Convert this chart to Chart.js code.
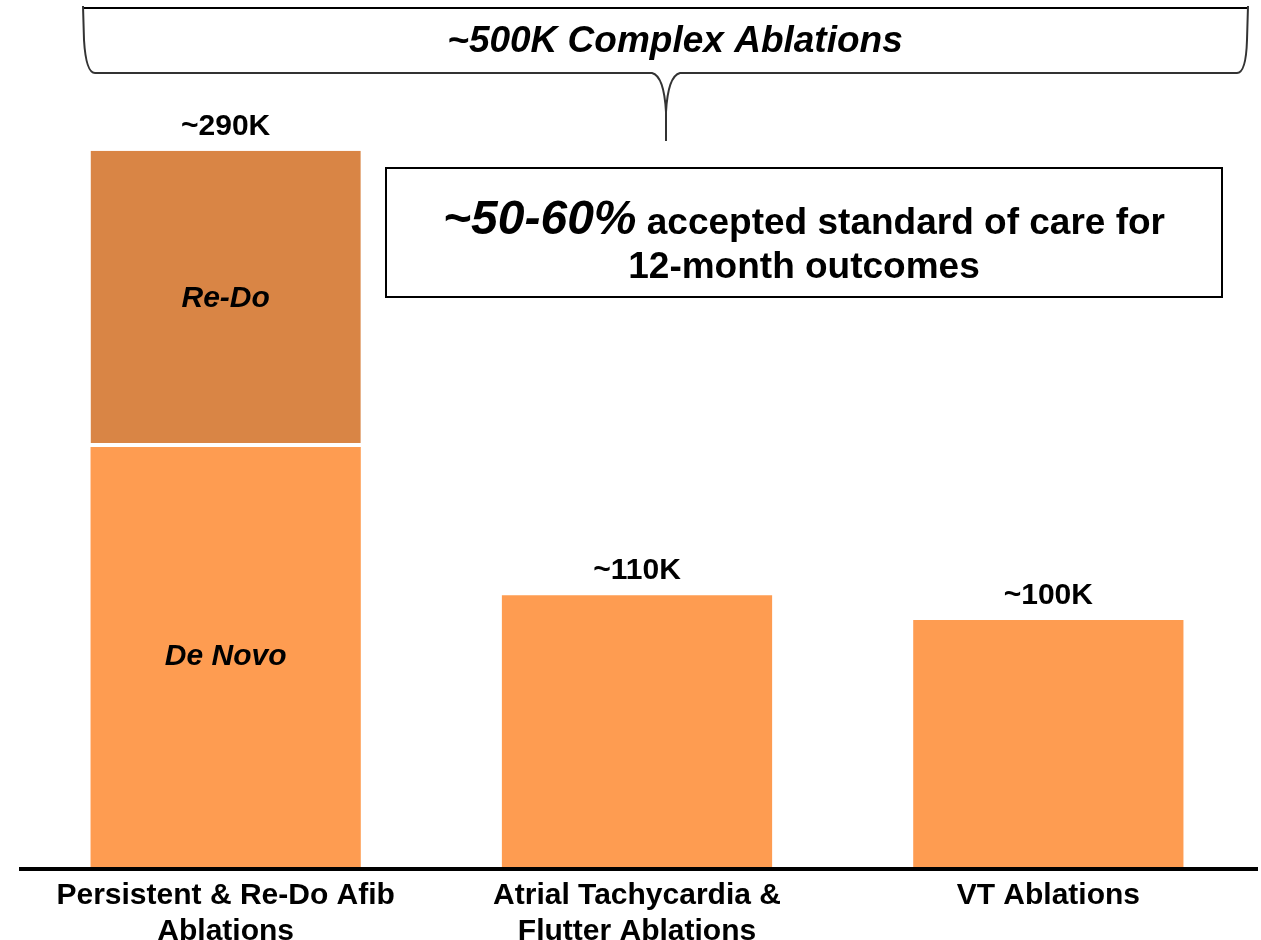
<!DOCTYPE html>
<html>
<head>
<meta charset="utf-8">
<script src="https://cdn.jsdelivr.net/npm/chart.js@4"></script>
<style>
  body { margin: 0; background: #fff; overflow: hidden; }
  #wrap { width: 1261px; height: 961px; }
</style>
</head>
<body>
<div id="wrap"><canvas id="ablations" width="1261" height="961"></canvas></div>
<script>
// data (thousands of procedures)
const categories = [
	['Persistent & Re-Do Afib', 'Ablations'],
	['Atrial Tachycardia &', 'Flutter Ablations'],
	['VT Ablations']
];
const deNovo = [170, 110, 100];
const reDo = [120, null, null];
const valueLabels = ['~290K', '~110K', '~100K'];
const segmentLabels = ['De Novo', 'Re-Do'];
const bigNote = '~50-60%';
const noteRest = ' accepted standard of care for';
const noteLine2 = '12-month outcomes';
const braceTitle = '~500K Complex Ablations';

const FONT = '"Liberation Sans", Arial, sans-serif';

const overlay = {
	id: 'overlay',
	afterDraw(chart) {
		const ctx = chart.ctx;
		const area = chart.chartArea;
		ctx.save();

		// axis line (wider than the plot area, like the slide)
		ctx.strokeStyle = '#000';
		ctx.lineWidth = 4;
		ctx.beginPath();
		ctx.moveTo(19, area.bottom + 2);
		ctx.lineTo(1258, area.bottom + 2);
		ctx.stroke();

		// value labels above each stack
		ctx.fillStyle = '#000';
		ctx.textAlign = 'center';
		ctx.textBaseline = 'alphabetic';
		ctx.font = 'bold 30px ' + FONT;
		valueLabels.forEach((txt, i) => {
			let top = Infinity, x = 0;
			chart.data.datasets.forEach((ds, d) => {
				if (ds.data[i] == null) return;
				const el = chart.getDatasetMeta(d).data[i];
				x = el.x;
				top = Math.min(top, el.y);
			});
			ctx.fillText(txt, x, top - 16);
		});

		// segment labels inside first bar
		ctx.font = 'bold italic 30px ' + FONT;
		ctx.textBaseline = 'middle';
		segmentLabels.forEach((txt, d) => {
			const el = chart.getDatasetMeta(d).data[0];
			ctx.fillText(txt, el.x, (el.y + el.base) / 2);
		});

		// brace over all three categories
		ctx.strokeStyle = '#000';
		ctx.lineWidth = 2;
		ctx.beginPath();
		ctx.moveTo(83, 8);
		ctx.lineTo(1248, 8);
		ctx.stroke();
		ctx.strokeStyle = '#333';
		ctx.beginPath();
		ctx.moveTo(83, 6);
		ctx.lineTo(84, 40);
		ctx.quadraticCurveTo(86, 73, 95, 73);
		ctx.lineTo(652, 73);
		ctx.quadraticCurveTo(664, 76, 666, 112);
		ctx.lineTo(666, 141);
		ctx.moveTo(666, 112);
		ctx.quadraticCurveTo(668, 76, 680, 73);
		ctx.lineTo(1237, 73);
		ctx.quadraticCurveTo(1246, 73, 1247, 40);
		ctx.lineTo(1248, 6);
		ctx.stroke();

		ctx.textBaseline = 'alphabetic';
		ctx.font = 'bold italic 37px ' + FONT;
		ctx.fillText(braceTitle, 675, 52);

		// note box
		ctx.strokeStyle = '#000';
		ctx.lineWidth = 2;
		ctx.strokeRect(386, 168, 836, 129);
		const cx = 804;
		ctx.textAlign = 'left';
		ctx.font = 'bold italic 48px ' + FONT;
		const w1 = ctx.measureText(bigNote).width;
		ctx.font = 'bold 37px ' + FONT;
		const w2 = ctx.measureText(noteRest).width;
		const start = cx - (w1 + w2) / 2;
		ctx.font = 'bold italic 48px ' + FONT;
		ctx.fillText(bigNote, start, 234);
		ctx.font = 'bold 37px ' + FONT;
		ctx.fillText(noteRest, start + w1, 234);
		ctx.textAlign = 'center';
		ctx.fillText(noteLine2, cx, 278);

		ctx.restore();
	}
};

new Chart(document.getElementById('ablations'), {
	type: 'bar',
	data: {
		labels: categories,
		datasets: [
			{
				label: 'De Novo',
				data: deNovo,
				backgroundColor: '#FE9C51',
				borderWidth: 0
			},
			{
				label: 'Re-Do',
				data: reDo,
				backgroundColor: '#D98545',
				borderColor: '#fff',
				borderWidth: { top: 0, left: 0, right: 0, bottom: 4 },
				borderSkipped: false
			}
		]
	},
	options: {
		responsive: false,
		animation: false,
		layout: { padding: { top: 126, left: 20, right: 7, bottom: 0 } },
		datasets: { bar: { categoryPercentage: 1, barPercentage: 0.657 } },
		plugins: { legend: { display: false }, tooltip: { enabled: false } },
		scales: {
			x: {
				stacked: true,
				grid: { display: false, drawTicks: false },
				border: { display: false },
				ticks: {
					color: '#000',
					padding: 11,
					maxRotation: 0,
					font: { family: FONT, size: 30, weight: 'bold', lineHeight: 1.2 }
				}
			},
			y: {
				stacked: true,
				display: false,
				min: 0,
				max: 300
			}
		}
	},
	plugins: [overlay]
});
</script>
</body>
</html>
